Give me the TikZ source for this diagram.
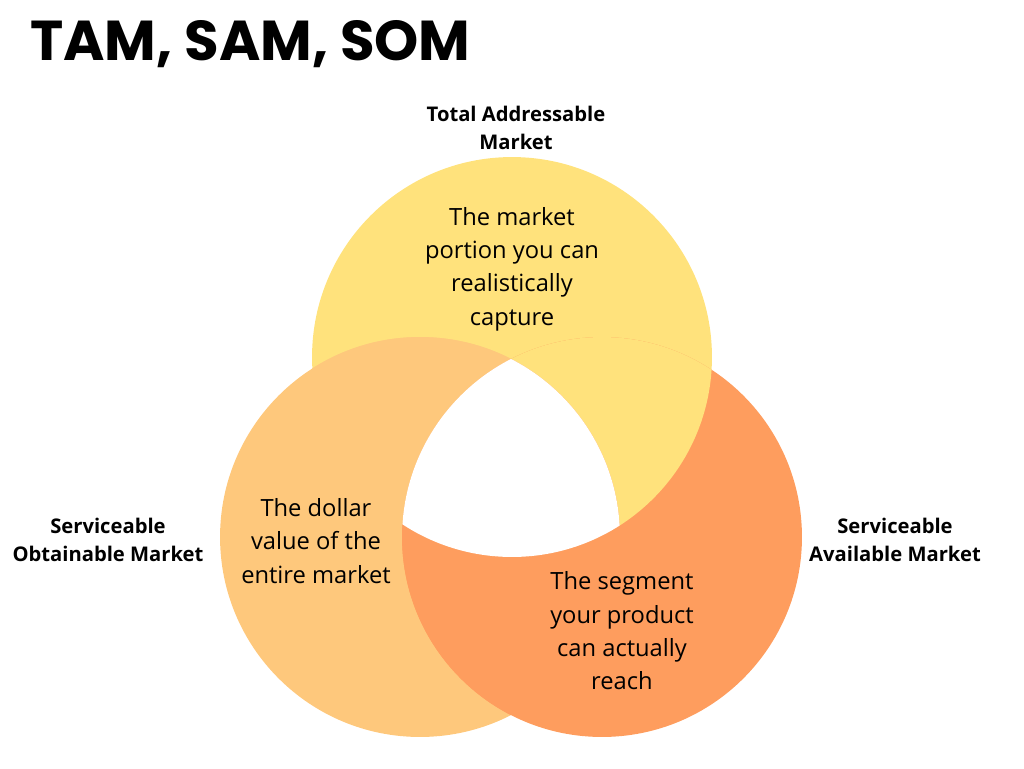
\documentclass[tikz,border=0pt]{standalone}
\usepackage{fontspec}
\setmainfont{Open Sans}
\newfontfamily\titlefont{Poppins}
\usetikzlibrary{positioning}
\definecolor{tamyellow}{HTML}{FFE27C}
\definecolor{somorange}{HTML}{FEC87C}
\definecolor{samorange}{HTML}{FE9D5E}

\begin{document}
\begin{tikzpicture}[x=0.02cm, y=-0.02cm,
    body/.style={align=center, font=\fontsize{13.5}{19}\selectfont},
    tag/.style={align=center, font=\bfseries\fontsize{11.5}{16}\selectfont}]
  \useasboundingbox (0,0) rectangle (1024,768);
  \coordinate (tam) at (512,357);
  \coordinate (som) at (420,537);
  \coordinate (sam) at (602,537);
  % circles
  \fill[tamyellow] (tam) circle[radius=4cm];
  \fill[somorange] (som) circle[radius=4cm];
  \fill[samorange] (sam) circle[radius=4cm];
  % pairwise overlaps
  \begin{scope}
    \clip (tam) circle[radius=4cm];
    \fill[somorange] (som) circle[radius=4cm];
  \end{scope}
  \begin{scope}
    \clip (sam) circle[radius=4cm];
    \fill[tamyellow] (tam) circle[radius=4cm];
  \end{scope}
  \begin{scope}
    \clip (som) circle[radius=4cm];
    \fill[samorange] (sam) circle[radius=4cm];
  \end{scope}
  % centre
  \begin{scope}
    \clip (tam) circle[radius=4cm];
    \clip (som) circle[radius=4cm];
    \fill[white] (sam) circle[radius=4cm];
  \end{scope}

  \node[anchor=west, font=\titlefont\bfseries\fontsize{32}{36}\selectfont] (title) at (24,44) {TAM, SAM, SOM};
  \node[tag] (tamlabel) at (516,128) {Total Addressable\\Market};
  \node[tag] (somlabel) at (108,540) {Serviceable\\Obtainable Market};
  \node[tag] (samlabel) at (895,540) {Serviceable\\Available Market};
  \node[body] (tamtext) at (512,269) {The market\\portion you can\\realistically\\capture};
  \node[body] (somtext) at (316,541) {The dollar\\value of the\\entire market};
  \node[body] (samtext) at (622,631) {The segment\\your product\\can actually\\reach};
\end{tikzpicture}
\end{document}
